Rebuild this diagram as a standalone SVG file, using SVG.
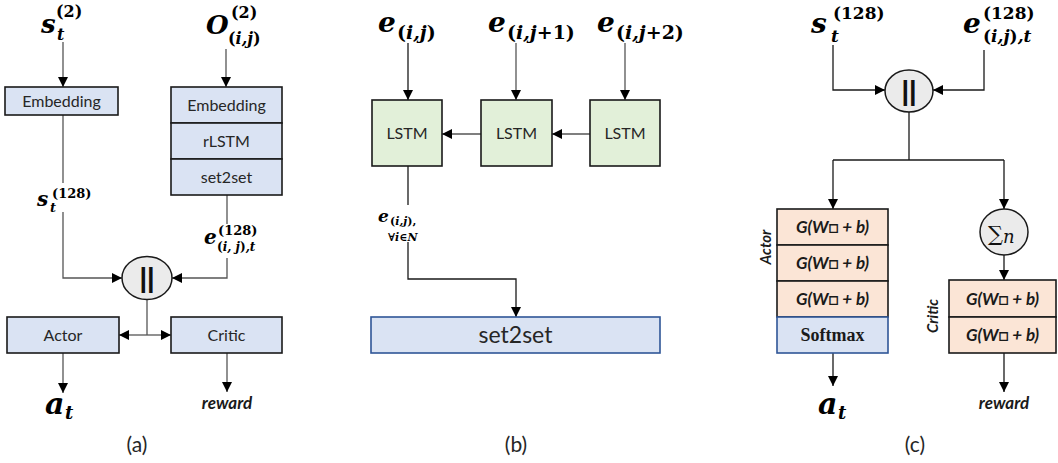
<svg xmlns="http://www.w3.org/2000/svg" width="1058" height="463" viewBox="0 0 1058 463">
<style>
.bb{fill:#dae3f3;stroke:#1a1a1a;stroke-width:1.6}
.bs{fill:#dae3f3;stroke:#2f5597;stroke-width:1.6}
.gb{fill:#e2f0d9;stroke:#1a1a1a;stroke-width:1.6}
.ob{fill:#fbe5d6;stroke:#1a1a1a;stroke-width:1.6}
.cc{fill:#ebebeb;stroke:#1a1a1a;stroke-width:1.5}
.t{font-family:Lato,"Liberation Sans",sans-serif;font-size:16px;fill:#262626;text-anchor:middle}
.g{font-family:Lato,"Liberation Sans",sans-serif;font-size:17px;font-weight:bold;font-style:italic;fill:#1a1a1a;text-anchor:middle}
.m{font-family:"DejaVu Serif",serif;font-weight:bold;font-style:italic;fill:#000}
.u{font-style:normal}
.cap{font-family:Lato,"Liberation Sans",sans-serif;font-size:21px;fill:#262626;text-anchor:middle}
.ln{fill:none;stroke:#555;stroke-width:1.3}
.lk{fill:none;stroke:#1a1a1a;stroke-width:1.3}
.ar{marker-end:url(#ah)}
</style>
<defs>
<marker id="ah" markerUnits="userSpaceOnUse" markerWidth="10" markerHeight="10" refX="10" refY="5" orient="auto">
<path d="M0,0 L10,5 L0,10 z" fill="#000"/>
</marker>
</defs>
<rect width="1058" height="463" fill="#fff"/>

<g id="connectors">
<!-- (a) -->
<path class="ln ar" d="M63,42 V87"/>
<path class="ln ar" d="M226,49 V87"/>
<path class="ln" d="M63,115 V183"/>
<path class="ln ar" d="M63,212 V278 H122"/>
<path class="ln" d="M227,195 V224"/>
<path class="ln ar" d="M227,258 V278 H172"/>
<path class="ln" d="M147,300 V335"/>
<path class="ln ar" d="M147,335 H119"/>
<path class="ln ar" d="M147,335 H171"/>
<path class="ln ar" d="M63,353 V393"/>
<path class="ln ar" d="M227,353 V392"/>
<!-- (b) -->
<path class="lk ar" d="M408,43 V100"/>
<path class="ln ar" d="M516,43 V100"/>
<path class="ln ar" d="M625,43 V100"/>
<path class="ln ar" d="M481,134 H442"/>
<path class="ln ar" d="M590,134 H552"/>
<path class="lk" d="M408,166 V205"/>
<path class="lk ar" d="M408,242 V279 H516 V317"/>
<!-- (c) -->
<path class="lk ar" d="M833,45 V90 H885"/>
<path class="lk ar" d="M984,50 V90 H933"/>
<path class="lk" d="M909,112 V160 M833,160 H1004"/>
<path class="lk ar" d="M833,160 V209"/>
<path class="lk ar" d="M1004,160 V209"/>
<path class="lk ar" d="M1004,255 V280"/>
<path class="lk ar" d="M833,353 V386"/>
<path class="lk ar" d="M1004,353 V392"/>
</g>

<!-- (a) nodes -->
<g id="a-in-s">
<text class="m" x="41" y="33" font-size="26">s</text>
<text class="m" x="57" y="40" font-size="16">t</text>
<text class="m u" x="56" y="17" font-size="16">(2)</text>
</g>
<g id="a-in-o">
<text class="m" x="206" y="34" font-size="26">O</text>
<text class="m u" x="231" y="18" font-size="16">(2)</text>
<text class="m" x="228" y="44" font-size="16"><tspan class="u">(</tspan>i,j<tspan class="u">)</tspan></text>
</g>
<g id="a-emb-s">
<rect class="bb" x="5" y="87" width="113" height="28"/>
<text class="t" x="61.5" y="106.5">Embedding</text>
</g>
<g id="a-stack-o">
<rect class="bb" x="171" y="87" width="111" height="36"/>
<rect class="bb" x="171" y="123" width="111" height="36"/>
<rect class="bb" x="171" y="159" width="111" height="36"/>
<text class="t" x="226.5" y="110.5">Embedding</text>
<text class="t" x="226.5" y="146.5">rLSTM</text>
<text class="t" x="226.5" y="182.5">set2set</text>
</g>
<g id="a-lbl-s128">
<text class="m" x="37" y="206" font-size="20">s</text>
<text class="m" x="50" y="212" font-size="13">t</text>
<text class="m u" x="52" y="198" font-size="13">(128)</text>
</g>
<g id="a-lbl-e128">
<text class="m" x="204" y="244" font-size="20">e</text>
<text class="m u" x="218" y="235" font-size="13">(128)</text>
<text class="m" x="217" y="251" font-size="12"><tspan class="u">(</tspan>i, j<tspan class="u">)</tspan>,t</text>
</g>
<g id="a-concat">
<ellipse class="cc" cx="147" cy="278" rx="25" ry="21.5"/>
<text x="147" y="287" font-family="'Liberation Sans',sans-serif" font-size="27" font-weight="bold" text-anchor="middle" fill="#111">||</text>
</g>
<g id="a-actor">
<rect class="bb" x="7" y="317" width="112" height="36"/>
<text class="t" x="63" y="340.5">Actor</text>
</g>
<g id="a-critic">
<rect class="bb" x="171" y="317" width="111" height="36"/>
<text class="t" x="226.5" y="340.5">Critic</text>
</g>
<g id="a-out-a">
<text class="m" x="45" y="414" font-size="30">a</text>
<text class="m" x="65" y="419" font-size="18">t</text>
</g>
<g id="a-out-r">
<text class="g" x="227" y="409">reward</text>
</g>
<text class="cap" x="137" y="452">(a)</text>

<!-- (b) nodes -->
<g id="b-in1">
<text class="m" x="378" y="32" font-size="28">e</text>
<text class="m" x="397" y="39" font-size="19"><tspan class="u">(</tspan>i,j<tspan class="u">)</tspan></text>
</g>
<g id="b-in2">
<text class="m" x="488" y="32" font-size="28">e</text>
<text class="m" x="507" y="39" font-size="19"><tspan class="u">(</tspan>i,j<tspan class="u">+1)</tspan></text>
</g>
<g id="b-in3">
<text class="m" x="597" y="32" font-size="28">e</text>
<text class="m" x="616" y="39" font-size="19"><tspan class="u">(</tspan>i,j<tspan class="u">+2)</tspan></text>
</g>
<g id="b-lstm1">
<rect class="gb" x="372" y="100" width="70" height="66"/>
<text class="t" x="407" y="138.5">LSTM</text>
</g>
<g id="b-lstm2">
<rect class="gb" x="481" y="100" width="71" height="66"/>
<text class="t" x="516.5" y="138.5">LSTM</text>
</g>
<g id="b-lstm3">
<rect class="gb" x="590" y="100" width="70" height="66"/>
<text class="t" x="625" y="138.5">LSTM</text>
</g>
<g id="b-lbl">
<text class="m" x="378" y="222" font-size="17">e</text>
<text class="m" x="390" y="225" font-size="11"><tspan class="u">(</tspan>i,j<tspan class="u">),</tspan></text>
<text class="m" x="388" y="241" font-size="11"><tspan class="u">∀</tspan>i<tspan class="u">∈</tspan>N</text>
</g>
<g id="b-set2set">
<rect class="bs" x="371" y="317" width="289" height="36"/>
<text class="t" x="515.5" y="343" style="font-size:23px">set2set</text>
</g>
<text class="cap" x="516" y="452">(b)</text>

<!-- (c) nodes -->
<g id="c-in-s">
<text class="m" x="811" y="33" font-size="28">s</text>
<text class="m" x="831" y="42" font-size="17">t</text>
<text class="m u" x="833" y="19" font-size="17">(128)</text>
</g>
<g id="c-in-e">
<text class="m" x="963" y="33" font-size="28">e</text>
<text class="m u" x="983" y="19" font-size="17">(128)</text>
<text class="m" x="983" y="42" font-size="17"><tspan class="u">(</tspan>i,j<tspan class="u">)</tspan>,t</text>
</g>
<g id="c-concat">
<ellipse class="cc" cx="909" cy="91" rx="24" ry="21"/>
<text x="909" y="100" font-family="'Liberation Sans',sans-serif" font-size="27" font-weight="bold" text-anchor="middle" fill="#111">||</text>
</g>
<g id="c-actor">
<rect class="ob" x="777" y="209" width="111" height="36"/>
<rect class="ob" x="777" y="245" width="111" height="36"/>
<rect class="ob" x="777" y="281" width="111" height="36"/>
<rect class="bs" x="777" y="317" width="111" height="36"/>
<text class="g" x="832.5" y="233">G(W□ + b)</text>
<text class="g" x="832.5" y="269">G(W□ + b)</text>
<text class="g" x="832.5" y="305">G(W□ + b)</text>
<text x="832.5" y="341" font-family="'Liberation Serif',serif" font-size="18" font-weight="bold" text-anchor="middle" fill="#1a1a1a">Softmax</text>
<text class="g" transform="translate(771,247) rotate(-90)" style="font-size:15px">Actor</text>
</g>
<g id="c-sum">
<ellipse class="cc" cx="1004" cy="232" rx="24" ry="23"/>
<text x="988" y="241" font-family="'DejaVu Serif',serif" font-size="21" fill="#111">∑<tspan font-style="italic" font-size="18" dy="2">n</tspan></text>
</g>
<g id="c-critic">
<rect class="ob" x="949" y="280" width="107" height="37"/>
<rect class="ob" x="949" y="317" width="107" height="36"/>
<text class="g" x="1002.5" y="305">G(W□ + b)</text>
<text class="g" x="1002.5" y="341">G(W□ + b)</text>
<text class="g" transform="translate(938,316) rotate(-90)" style="font-size:15px">Critic</text>
</g>
<g id="c-out-a">
<text class="m" x="818" y="414" font-size="30">a</text>
<text class="m" x="838" y="419" font-size="18">t</text>
</g>
<g id="c-out-r">
<text class="g" x="1004" y="409">reward</text>
</g>
<text class="cap" x="915" y="452">(c)</text>
</svg>
